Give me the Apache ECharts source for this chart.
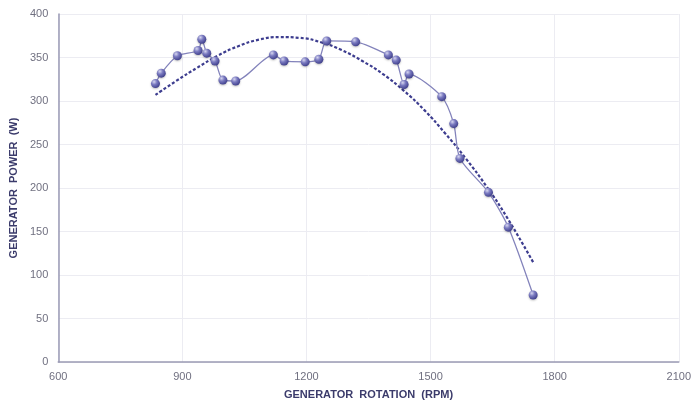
<!DOCTYPE html>
<html>
<head>
<meta charset="utf-8">
<script src="https://cdn.jsdelivr.net/npm/echarts@6/dist/echarts.min.js"></script>
<style>
	html, body { margin: 0; padding: 0; background: #fff; }
	#chart { width: 694px; height: 405px; }
</style>
</head>
<body>
<div id="chart"></div>
<script>
	// measured points: rotation (RPM), power (W)
	var rotation = [835, 849, 888, 938, 947, 959, 979, 998, 1029, 1120, 1146, 1197, 1230, 1249, 1319, 1398, 1417, 1436, 1448, 1527, 1556, 1571, 1640, 1688, 1748]
	var power = [320, 332, 352, 358, 371, 355, 346, 324, 323, 353, 346, 345, 348, 369, 368, 353, 347, 319, 331, 305, 274, 234, 195, 155, 77]

	// dashed trend line
	var trendX = [835, 885, 935, 985, 1035, 1085, 1135, 1185, 1235, 1285, 1335, 1385, 1435, 1485, 1535, 1585, 1635, 1685, 1750]
	var trendY = [307, 323, 338, 352, 363, 370.5, 373.5, 372.5, 367.5, 358.5, 346, 331, 312, 289.5, 263, 234, 202, 166, 113]

	var xTicks = [600, 2100, 300]
	var yTicks = [0, 400, 50]

	var chart = echarts.init(document.getElementById('chart'))

	var labelColor = '#707080'
	var titleColor = '#3b3b6b'
	var lineColor = '#8383bb'
	var trendColor = '#3d3d8f'

	var ball = new echarts.graphic.RadialGradient(0.35, 0.3, 0.7, [
		{ offset: 0, color: '#d6d6f0' },
		{ offset: 0.45, color: '#7a7ac0' },
		{ offset: 1, color: '#43438f' }
	])

	function plain(v) { return String(v) }

	chart.setOption({
		animation: false,
		grid: {
			left: 54,
			right: 14,
			top: 14,
			bottom: 42
		},
		xAxis: {
			type: 'value',
			min: xTicks[0],
			max: xTicks[1],
			interval: xTicks[2],
			name: 'GENERATOR  ROTATION  (RPM)',
			nameLocation: 'middle',
			nameGap: 27,
			nameTextStyle: {
				color: titleColor,
				fontWeight: 'bold',
				fontSize: 11,
				fontFamily: 'Liberation Sans'
			},
			axisLine: { lineStyle: { color: '#9a9ab4', width: 1.5 } },
			axisTick: { show: false },
			axisLabel: { color: labelColor, fontSize: 11, margin: 9, fontFamily: 'Liberation Sans', formatter: plain },
			splitLine: { lineStyle: { color: '#ececf2' } }
		},
		yAxis: {
			type: 'value',
			min: yTicks[0],
			max: yTicks[1],
			interval: yTicks[2],
			name: 'GENERATOR  POWER  (W)',
			nameLocation: 'middle',
			nameGap: 38,
			nameTextStyle: {
				color: titleColor,
				fontWeight: 'bold',
				fontSize: 11,
				fontFamily: 'Liberation Sans'
			},
			axisLine: { show: true, lineStyle: { color: '#9a9ab4', width: 1.5 } },
			axisTick: { show: false },
			axisLabel: { color: labelColor, fontSize: 11, margin: 10, fontFamily: 'Liberation Sans', formatter: plain },
			splitLine: { lineStyle: { color: '#ececf2' } }
		},
		series: [
			{
				type: 'line',
				data: trendX.map(function(x, i) { return [x, trendY[i]] }),
				smooth: 0.5,
				showSymbol: false,
				lineStyle: {
					color: trendColor,
					width: 2.2,
					type: [3, 2]
				},
				z: 2
			},
			{
				type: 'line',
				data: rotation.map(function(x, i) { return [x, power[i]] }),
				smooth: 0.25,
				symbol: 'circle',
				symbolSize: 9,
				lineStyle: {
					color: lineColor,
					width: 1.3
				},
				itemStyle: {
					color: ball,
					shadowColor: 'rgba(0,0,0,0.25)',
					shadowBlur: 2,
					shadowOffsetY: 1
				},
				z: 3
			}
		]
	})
</script>
</body>
</html>
